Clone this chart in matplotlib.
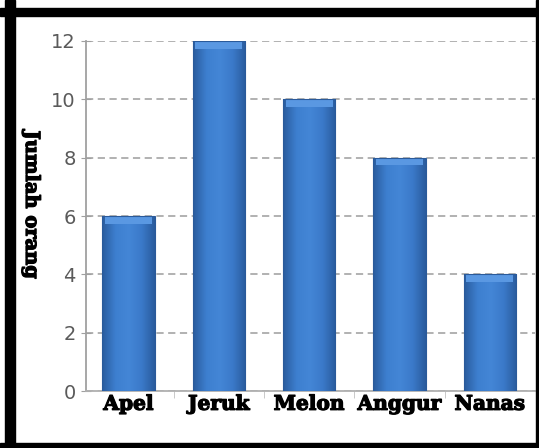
import matplotlib
matplotlib.use("Agg")
import matplotlib.pyplot as plt
import matplotlib.patheffects as pe
import numpy as np
from matplotlib.colors import LinearSegmentedColormap
from matplotlib.patches import Rectangle

# Data
buah = ["Apel", "Jeruk", "Melon", "Anggur", "Nanas"]
jumlah = [6, 12, 10, 8, 4]
yticks = [0, 2, 4, 6, 8, 10, 12]

fig = plt.figure(figsize=(5.39, 4.48), dpi=100)
ax = fig.add_axes([0.1596, 0.1272, 0.833, 0.7813])

# Gradient for bars (dark edge -> light middle -> dark edge)
cmap = LinearSegmentedColormap.from_list(
    "bar", ["#2a5c9e", "#3d7fcf", "#4486d6", "#3b7aca", "#2a5c9e"])
grad = np.linspace(0, 1, 64).reshape(1, -1)

x = np.arange(len(buah))
bars = ax.bar(x, jumlah, width=0.58, color="#3b7aca", zorder=3, linewidth=0)
for b in bars:
    x0, w, h = b.get_x(), b.get_width(), b.get_height()
    im = ax.imshow(grad, extent=[x0, x0 + w, 0, h], cmap=cmap,
                   aspect="auto", zorder=3.5, interpolation="bilinear")
    im.set_clip_path(b)
    # lighter top cap
    ax.add_patch(Rectangle((x0 + w * 0.05, h - 0.26), w * 0.9, 0.26,
                           color="#5a98e2", zorder=4, lw=0))
    ax.add_patch(Rectangle((x0, 0), w, h, fill=False, edgecolor="#2a5a9a",
                           lw=0.8, zorder=5))

ax.set_xlim(-0.47, len(buah) - 0.5)
ax.set_ylim(0, 12)

# gridlines
ax.set_yticks(yticks)
ax.grid(axis="y", color="#ababab", linestyle=(0, (4, 2.5)), linewidth=1.3)
ax.set_axisbelow(True)

tebal = [pe.withStroke(linewidth=0.9, foreground="black")]
ax.set_xticks(x)
ax.set_xticklabels(buah, fontfamily="DejaVu Serif", fontweight="bold",
                   fontsize=14.5, color="black", path_effects=tebal)
ax.set_xticks(x[:-1] + 0.5, minor=True)
ax.tick_params(axis="x", which="major", length=0, pad=2)
ax.tick_params(axis="x", which="minor", length=5, color="#c0c0c0", direction="out")
ax.tick_params(axis="y", length=7, color="#a0a0a0", labelsize=14,
               labelcolor="#5a5a5a", pad=4, direction="inout")

for s in ["top", "right"]:
    ax.spines[s].set_visible(False)
ax.spines["left"].set_color("#a0a0a0")
ax.spines["left"].set_linewidth(1.3)
ax.spines["bottom"].set_color("#b0b0b0")
ax.spines["bottom"].set_linewidth(1.3)

fig.text(31 / 539, 1 - 205 / 448, "Jumlah orang", rotation=270,
         fontfamily="DejaVu Serif", fontweight="bold", fontsize=14,
         ha="center", va="center", path_effects=tebal)

# black frame around the picture
W, H = 539, 448
for (px, py, pw, ph) in [(5, 0, 10, H), (0, H - 16, W, 8), (W - 3, 0, 3, H), (0, 0, W, 5)]:
    fig.patches.append(Rectangle((px / W, py / H), pw / W, ph / H,
                                 transform=fig.transFigure, color="black", zorder=10))

fig.savefig("out.png", dpi=100)
